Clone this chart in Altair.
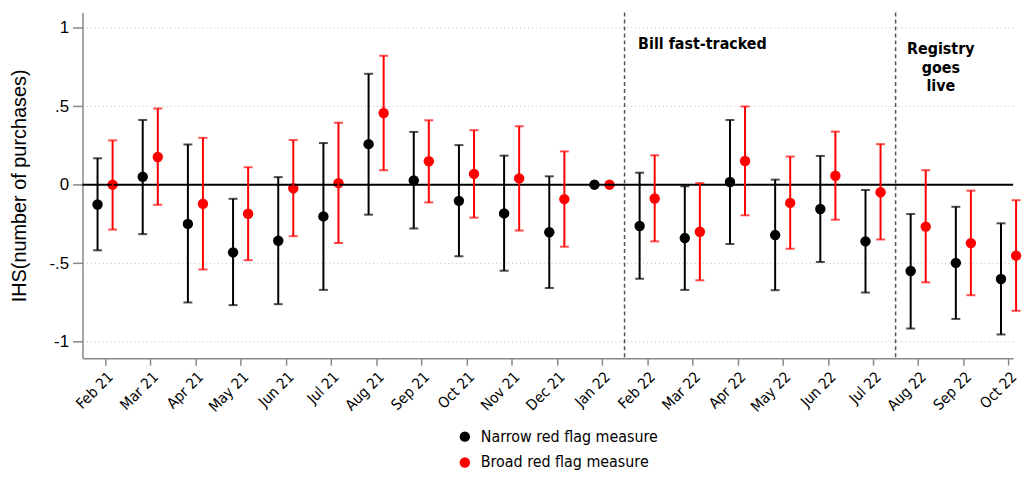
import altair as alt
import pandas as pd

months = ["Feb 21", "Mar 21", "Apr 21", "May 21", "Jun 21", "Jul 21", "Aug 21",
          "Sep 21", "Oct 21", "Nov 21", "Dec 21", "Jan 22", "Feb 22", "Mar 22",
          "Apr 22", "May 22", "Jun 22", "Jul 22", "Aug 22", "Sep 22", "Oct 22"]

narrow_est = [-0.126, 0.05, -0.25, -0.431, -0.357, -0.202, 0.258, 0.027, -0.103, -0.183, -0.303, 0.0,
              -0.263, -0.34, 0.017, -0.321, -0.155, -0.361, -0.55, -0.498, -0.601]
narrow_lo = [-0.418, -0.315, -0.75, -0.767, -0.761, -0.67, -0.191, -0.279, -0.456, -0.548, -0.658, None,
             -0.599, -0.67, -0.378, -0.672, -0.492, -0.687, -0.916, -0.855, -0.954]
narrow_hi = [0.168, 0.412, 0.256, -0.09, 0.048, 0.265, 0.706, 0.336, 0.252, 0.185, 0.053, None,
             0.076, -0.01, 0.412, 0.032, 0.183, -0.034, -0.187, -0.141, -0.246]

broad_est = [0.0, 0.176, -0.122, -0.185, -0.023, 0.01, 0.456, 0.149, 0.069, 0.04, -0.092, 0.0,
             -0.088, -0.30, 0.151, -0.116, 0.057, -0.048, -0.267, -0.372, -0.452]
broad_lo = [-0.286, -0.128, -0.54, -0.481, -0.328, -0.372, 0.092, -0.113, -0.21, -0.292, -0.395, None,
            -0.361, -0.609, -0.195, -0.408, -0.223, -0.349, -0.622, -0.704, -0.803]
broad_hi = [0.282, 0.485, 0.298, 0.111, 0.284, 0.395, 0.821, 0.41, 0.347, 0.372, 0.212, None,
            0.187, 0.01, 0.498, 0.179, 0.338, 0.258, 0.092, -0.038, -0.099]

series_names = ["Narrow red flag measure", "Broad red flag measure"]
series_colors = ["#000000", "#ff0000"]

rows = []
for i, m in enumerate(months):
    rows.append(dict(month=m, pos=i - 1 / 6, series=series_names[0],
                     est=narrow_est[i], lo=narrow_lo[i], hi=narrow_hi[i]))
    rows.append(dict(month=m, pos=i + 1 / 6, series=series_names[1],
                     est=broad_est[i], lo=broad_lo[i], hi=broad_hi[i]))
df = pd.DataFrame(rows)
df_ci = df.dropna(subset=["lo", "hi"])

COND = "DejaVu Sans Condensed, Liberation Sans Narrow, sans-serif"
REG = "Liberation Sans, Arial, sans-serif"

label_arr = "[" + ",".join("'%s'" % m for m in months) + "]"

xscale = alt.Scale(domain=[-0.5, 20.1], nice=False, zero=False)
yscale = alt.Scale(domain=[-1.105, 1.096], nice=False, zero=False)
cscale = alt.Scale(domain=series_names, range=series_colors)

xaxis = alt.Axis(values=list(range(len(months))),
                 labelExpr=label_arr + "[datum.value]",
                 labelAngle=-45, labelFont=COND, labelFontSize=15,
                 labelColor="#000", labelPadding=4, labelOverlap=False,
                 labelBound=False, labelFlush=False,
                 tickColor="#888", tickSize=7, tickWidth=1.5,
                 domainColor="#888", domainWidth=1.5, grid=False)
yaxis = alt.Axis(values=[-1, -0.5, 0, 0.5, 1],
                 labelExpr="datum.value == 1 ? '1' : datum.value == 0.5 ? '.5' : datum.value == 0 ? '0' : datum.value == -0.5 ? '-.5' : '-1'",
                 labelFont=REG, labelFontSize=17, labelColor="#000",
                 labelPadding=4, tickColor="#888", tickSize=10, tickWidth=1.5,
                 domainColor="#888", domainWidth=1.5,
                 grid=True, gridColor="#bbbbbb", gridDash=[1, 3], gridWidth=1,
                 titleFont=REG, titleFontSize=20, titleFontWeight="normal",
                 titleColor="#000", titlePadding=20)

YTITLE = "IHS(number of purchases)"


def xs():
    return alt.X("pos:Q", scale=xscale, title=None, axis=xaxis)


def ys(f):
    return alt.Y(f, scale=yscale, title=YTITLE, axis=yaxis)


color = alt.Color("series:N", scale=cscale,
                  legend=alt.Legend(title=None, orient="none", legendX=377, legendY=419,
                                    direction="vertical", symbolType="circle",
                                    symbolSize=110, symbolStrokeWidth=0,
                                    labelFont=COND, labelFontSize=16, labelColor="#000",
                                    labelLimit=0, rowPadding=10, labelOffset=8))
cnone = alt.Color("series:N", scale=cscale, legend=None)

zero = alt.Chart(pd.DataFrame({"est": [0.0]})).mark_rule(color="#000", strokeWidth=2).encode(y=ys("est:Q"))

vlines = alt.Chart(pd.DataFrame({"pos": [11.5, 17.5]})).mark_rule(
    color="#555", strokeWidth=1.5, strokeDash=[4, 3]).encode(x=xs())

bars = alt.Chart(df_ci).mark_rule(strokeWidth=2).encode(
    x=xs(), y=ys("lo:Q"), y2="hi:Q", color=cnone)

caps_lo = alt.Chart(df_ci).mark_tick(orient="horizontal", size=9, thickness=2).encode(
    x=xs(), y=ys("lo:Q"), color=cnone)
caps_hi = alt.Chart(df_ci).mark_tick(orient="horizontal", size=9, thickness=2).encode(
    x=xs(), y=ys("hi:Q"), color=cnone)

points = alt.Chart(df).mark_circle(size=110, opacity=1).encode(x=xs(), y=ys("est:Q"), color=color)

ann1 = alt.Chart(pd.DataFrame({"pos": [11.8], "est": [0.895], "t": ["Bill fast-tracked"]})).mark_text(
    align="left", baseline="middle", font=COND, fontSize=16, fontWeight="bold", color="#000").encode(
    x=xs(), y=ys("est:Q"), text="t:N")
ann2 = alt.Chart(pd.DataFrame({"pos": [18.5] * 3, "est": [0.865, 0.744, 0.626],
                               "t": ["Registry", "goes", "live"]})).mark_text(
    align="center", baseline="middle", font=COND, fontSize=16, fontWeight="bold", color="#000").encode(
    x=xs(), y=ys("est:Q"), text="t:N")

chart = alt.layer(points, zero, vlines, bars, caps_lo, caps_hi, ann1, ann2).properties(
    width=937, height=348, background="white",
    padding={"left": 1, "top": 2, "right": 0, "bottom": 0}
).configure_view(strokeOpacity=0, strokeWidth=0)

chart.save("out.html", embed_options={"renderer": "svg", "actions": False})
